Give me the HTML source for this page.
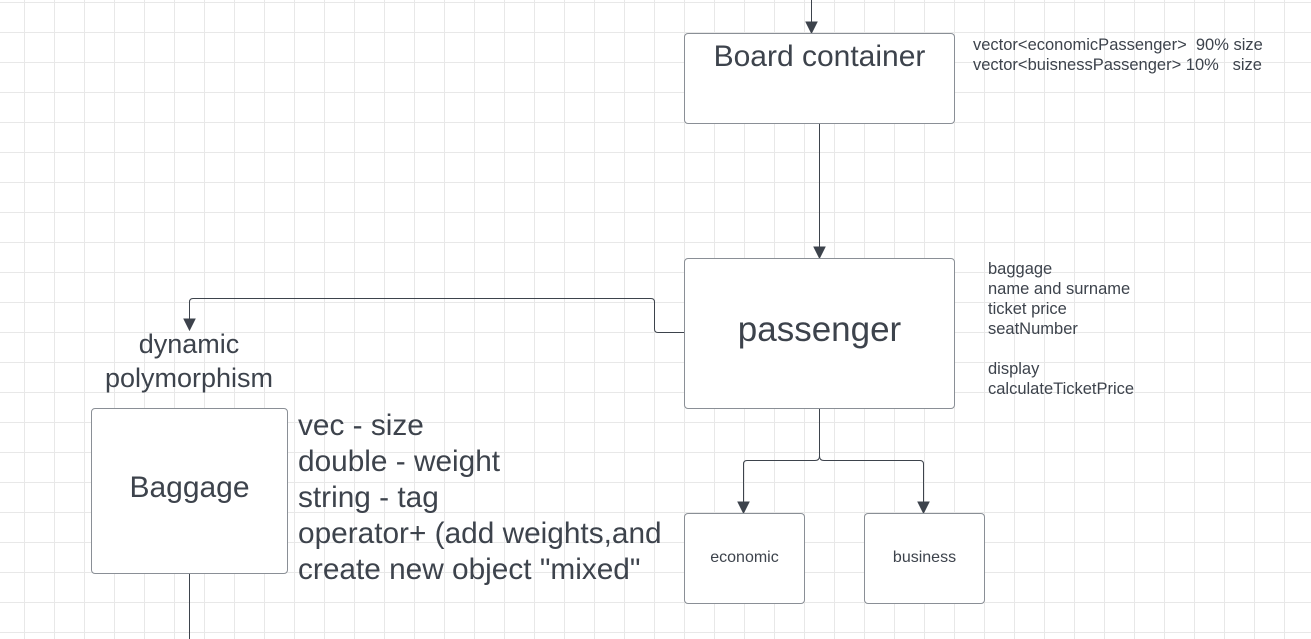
<!DOCTYPE html>
<html><head><style>
body{margin:0;width:1311px;height:639px;overflow:hidden;background:#fff;font-family:"Liberation Sans",sans-serif;color:#3d434c}
.bg{position:absolute;left:0;top:0;width:1311px;height:639px;
background-image:linear-gradient(to right,#e8e8e8 1px,transparent 1px),linear-gradient(to bottom,#e8e8e8 1px,transparent 1px);
background-size:30px 30px;background-position:24px 2px}
.box{position:absolute;background:#fff;border:1px solid #8a8f96;border-radius:4px;box-sizing:border-box;text-align:center}
.t{position:absolute;white-space:nowrap}
</style></head><body>
<div class="bg"></div>
<svg width="1311" height="639" style="position:absolute;left:0;top:0">
<g stroke="#3d434c" stroke-width="1" fill="none">
<path d="M811.5,0 V33"/><path d="M806,22 L817,22 L811.5,33 z" fill="#3d434c"/>
<path d="M819.5,123 V258"/><path d="M814,247 L825,247 L819.5,258 z" fill="#3d434c"/>
<path d="M684,332.5 H658 Q654.5,332.5 654.5,329 V302 Q654.5,298.5 651,298.5 H193 Q189.5,298.5 189.5,302 V330"/><path d="M184,319 L195,319 L189.5,330 z" fill="#3d434c"/>
<path d="M819.5,408 V456 Q819.5,460.5 815,460.5 H747 Q743.5,460.5 743.5,464 V513"/><path d="M738,502 L749,502 L743.5,513 z" fill="#3d434c"/>
<path d="M819.5,456 Q819.5,460.5 824,460.5 H920 Q923.5,460.5 923.5,464 V513"/><path d="M918,502 L929,502 L923.5,513 z" fill="#3d434c"/>
<path d="M189.5,573 V639"/>
</g></svg>
<div class="box" style="left:684px;top:33px;width:271px;height:91px;font-size:30px;padding-top:6px">Board container</div>
<div class="t" style="left:973px;top:35px;font-size:16.5px;line-height:20px">vector&lt;economicPassenger&gt;&nbsp; 90% size<br>vector&lt;buisnessPassenger&gt; 10%&nbsp;&nbsp; size</div>
<div class="box" style="left:684px;top:258px;width:271px;height:151px;font-size:35px;line-height:141px">passenger</div>
<div class="t" style="left:988px;top:259px;font-size:16.5px;line-height:20px">baggage<br>name and surname<br>ticket price<br>seatNumber<br><br>display<br>calculateTicketPrice</div>
<div class="t" style="left:89px;top:327px;width:200px;text-align:center;font-size:27px;line-height:34px">dynamic<br>polymorphism</div>
<div class="box" style="left:91px;top:408px;width:197px;height:166px;font-size:30px;line-height:158px">Baggage</div>
<div class="t" style="left:298px;top:408px;font-size:29.8px;line-height:36px">vec - size<br>double - weight<br>string - tag<br>operator+ (add weights,and<br>create new object "mixed"</div>
<div class="box" style="left:684px;top:513px;width:121px;height:91px;font-size:16px;line-height:88px">economic</div>
<div class="box" style="left:864px;top:513px;width:121px;height:91px;font-size:16px;line-height:88px">business</div>
</body></html>
